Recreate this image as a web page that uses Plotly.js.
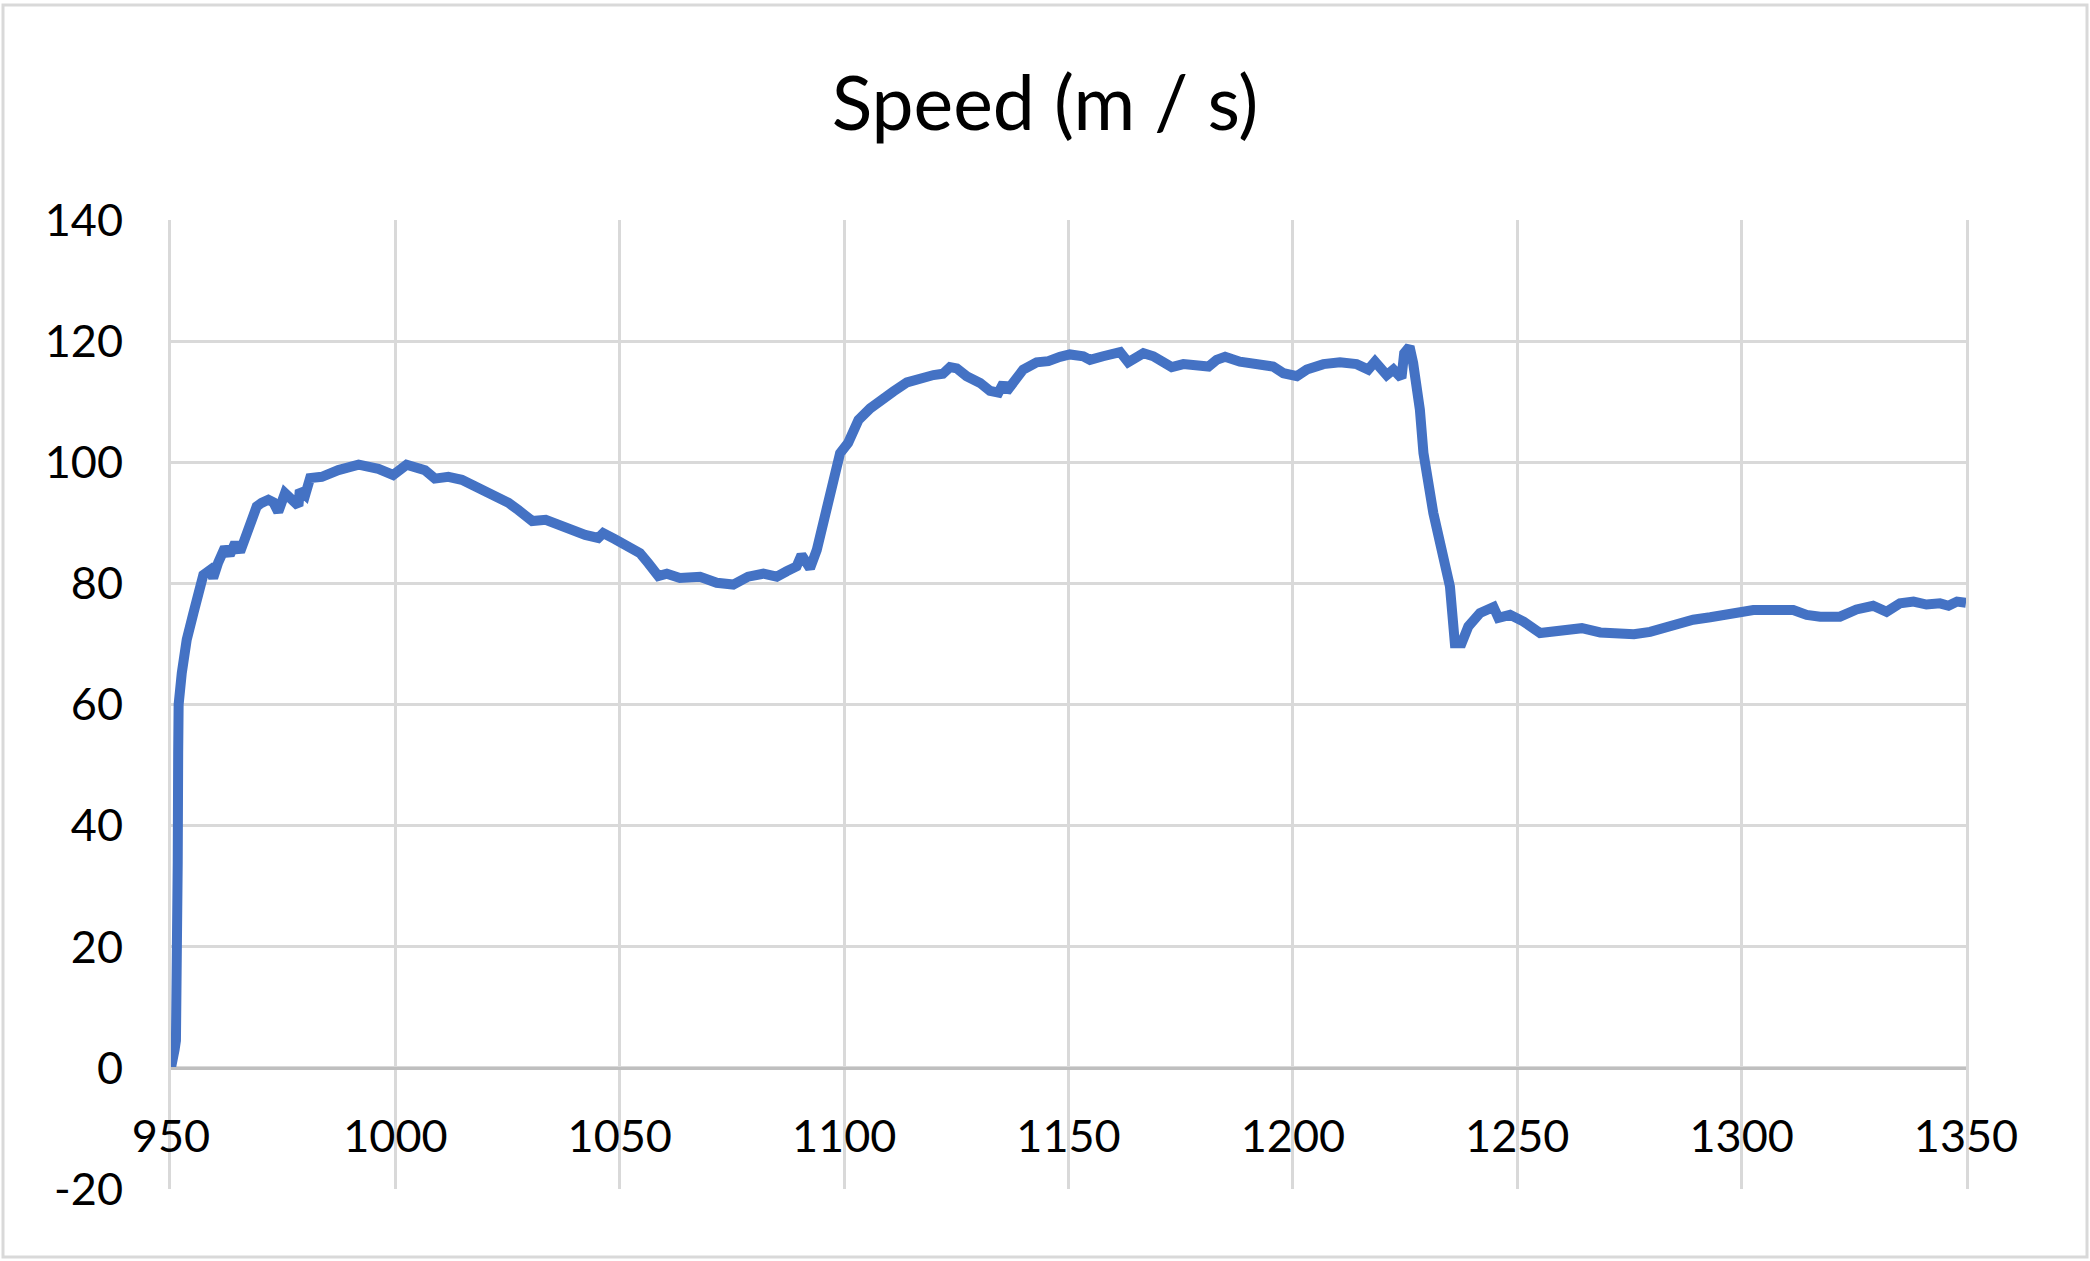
<!DOCTYPE html>
<html>
<head>
<meta charset="utf-8">
<script src="https://cdn.plot.ly/plotly-3.0.1.min.js"></script>
<style>
  html, body { margin: 0; padding: 0; background: #ffffff; }
  #chart { width: 2090px; height: 1261px; }
</style>
</head>
<body>
<div id="chart"></div>
<script>
// Time (s)
const time = [
  950, 950.4, 950.8, 951.1, 951.3, 951.5, 951.6, 951.7, 952.4, 953.5,
  955, 956.1, 957.2, 958.7, 959.4, 960.5, 962, 963.1, 964.3, 965.4,
  966.5, 967.6, 969.1, 970.2, 971.7, 972.8, 973.9, 975.4, 976.9, 978.4,
  978.7, 979.9, 981, 983.6, 987.3, 991.8, 996.2, 999.5, 1002.5, 1006.6,
  1008.8, 1011.8, 1014.8, 1018.5, 1022.2, 1025.2, 1027.4, 1030.5, 1033.5, 1036.3,
  1039.3, 1042.3, 1045.2, 1046.3, 1048.9, 1051.6, 1054.5, 1056.4, 1058.6, 1060.5,
  1063.4, 1067.9, 1071.6, 1075.3, 1078.6, 1082, 1085, 1087.2, 1089.4, 1090.5,
  1092.4, 1093.9, 1095.4, 1097.2, 1099.1, 1100.9, 1103.2, 1105.8, 1108, 1111,
  1114, 1116.9, 1119.9, 1122, 1123.6, 1125.1, 1127.3, 1130.3, 1132.5, 1134.4,
  1135.5, 1136.2, 1137.7, 1139.9, 1142.9, 1145.5, 1148.1, 1150.3, 1153.3, 1154.8,
  1157.7, 1161.5, 1163.3, 1166.7, 1168.9, 1171.1, 1173, 1175.6, 1178.6, 1181.2,
  1183, 1184.9, 1188.2, 1190.4, 1193.4, 1195.6, 1197.9, 1200.9, 1203.1, 1206.8,
  1210.5, 1214.2, 1216.8, 1218.3, 1220.9, 1222.4, 1224.2, 1224.8, 1226, 1226.8,
  1228.3, 1229.1, 1231.3, 1233.5, 1235, 1236.1, 1237.6, 1239.1, 1241.7, 1244.7,
  1245.8, 1248.4, 1251.4, 1255.1, 1259.5, 1264.4, 1268.5, 1272.2, 1276, 1279.6,
  1283.3, 1285.5, 1289.2, 1293, 1296.7, 1299.6, 1302.6, 1307.1, 1311.5, 1314.5,
  1317.5, 1321.9, 1325.6, 1329.3, 1332.3, 1335.3, 1338.3, 1341.2, 1344.2, 1346.1,
  1348, 1350
];

// Speed (m / s)
const speed = [
  0, 1, 3, 4.5, 12, 34, 52, 60, 65.2, 70.7,
  75.1, 78.4, 81.4, 82.2, 80.9, 83.4, 85.9, 84.7, 86.7, 85.2,
  87.2, 90, 92.7, 93.3, 93.8, 93.4, 91.8, 94.9, 94.1, 92.8,
  95.4, 94.6, 97.4, 97.6, 98.7, 99.6, 98.9, 97.9, 99.6, 98.7,
  97.3, 97.6, 97.1, 95.8, 94.6, 93.3, 92.1, 90.3, 90.5, 89.6,
  88.8, 88, 87.5, 88.3, 87.3, 86.4, 85, 83.3, 81.2, 81.6,
  80.9, 81.1, 80.1, 79.8, 81.1, 81.6, 81.1, 82, 82.8, 84.7,
  82.5, 85.5, 90.5, 96, 101.5, 103.2, 107, 108.9, 110.3, 111.7,
  113.2, 113.9, 114.4, 114.6, 115.7, 115.5, 114.2, 113.1, 111.8, 111.5,
  113.1, 111.7, 113.1, 115.3, 116.5, 116.7, 117.4, 117.8, 117.5, 116.9,
  117.5, 118.2, 116.5, 118, 117.5, 116.6, 115.7, 116.2, 115.8, 115.8,
  116.9, 117.4, 116.6, 116.4, 115.8, 115.8, 114.7, 114.2, 115.3, 116.2,
  116.5, 116.2, 115.3, 116.6, 114.4, 115.3, 113.9, 118, 119.1, 116.4,
  108.7, 101.5, 91.6, 83.9, 79.5, 70.1, 70.1, 72.9, 75.1, 76.1,
  74.3, 74.8, 73.7, 71.8, 72, 72.6, 71.9, 71.7, 71.6, 72,
  72.9, 73.5, 74, 74.4, 74.8, 75, 75.6, 75.6, 75.6, 74.8,
  74.5, 74.5, 75.7, 76.3, 75.3, 76.7, 77, 76.5, 76.7, 76.3,
  77, 76.8
];

const chartTitle = 'Speed (m / s)';
const xTicks = [950, 1000, 1050, 1100, 1150, 1200, 1250, 1300, 1350];
const yTicks = [-20, 0, 20, 40, 60, 80, 100, 120, 140];

const FONT = 'Lato, "Open Sans", "Liberation Sans", sans-serif';

const trace = {
  x: time,
  y: speed,
  type: 'scatter',
  mode: 'lines',
  line: { color: '#4472C4', width: 10, shape: 'linear' },
  hoverinfo: 'skip',
  showlegend: false
};

const layout = {
  width: 2090,
  height: 1261,
  paper_bgcolor: '#ffffff',
  plot_bgcolor: '#ffffff',
  margin: { l: 171, r: 124, t: 220, b: 72, pad: 0 },
  font: { family: FONT, color: '#000000' },
  title: {
    text: chartTitle,
    font: { family: FONT, size: 75, color: '#000000' },
    x: 0.5, xref: 'container', xanchor: 'center',
    y: 1 - 104 / 1261, yref: 'container', yanchor: 'middle'
  },
  xaxis: {
    range: [950, 1350],
    tickmode: 'array',
    tickvals: xTicks,
    ticktext: xTicks.map(String),
    showgrid: true,
    gridcolor: '#d9d9d9',
    gridwidth: 3,
    zeroline: false,
    showline: true,
    linecolor: '#bfbfbf',
    linewidth: 3,
    anchor: 'free',
    position: 20 / 160,
    ticks: '',
    ticklabelstandoff: 28,
    tickfont: { family: FONT, size: 45, color: '#000000' },
    fixedrange: true
  },
  yaxis: {
    range: [-20, 140],
    tickmode: 'array',
    tickvals: yTicks,
    ticktext: yTicks.map(String),
    showgrid: true,
    gridcolor: '#d9d9d9',
    gridwidth: 3,
    zeroline: false,
    showline: true,
    mirror: true,
    linecolor: '#d9d9d9',
    linewidth: 3,
    ticks: '',
    ticklabelstandoff: 36,
    tickfont: { family: FONT, size: 45, color: '#000000' },
    fixedrange: true
  },
  shapes: [
    {
      type: 'rect',
      xref: 'paper', yref: 'paper',
      x0: (3 - 171) / 1795, x1: (2087 - 171) / 1795,
      y0: (1189 - 1257) / 969, y1: (1189 - 5) / 969,
      line: { color: '#d9d9d9', width: 3 },
      fillcolor: 'rgba(0,0,0,0)'
    }
  ]
};

Plotly.newPlot('chart', [trace], layout, { staticPlot: true, displayModeBar: false });
</script>
</body>
</html>
